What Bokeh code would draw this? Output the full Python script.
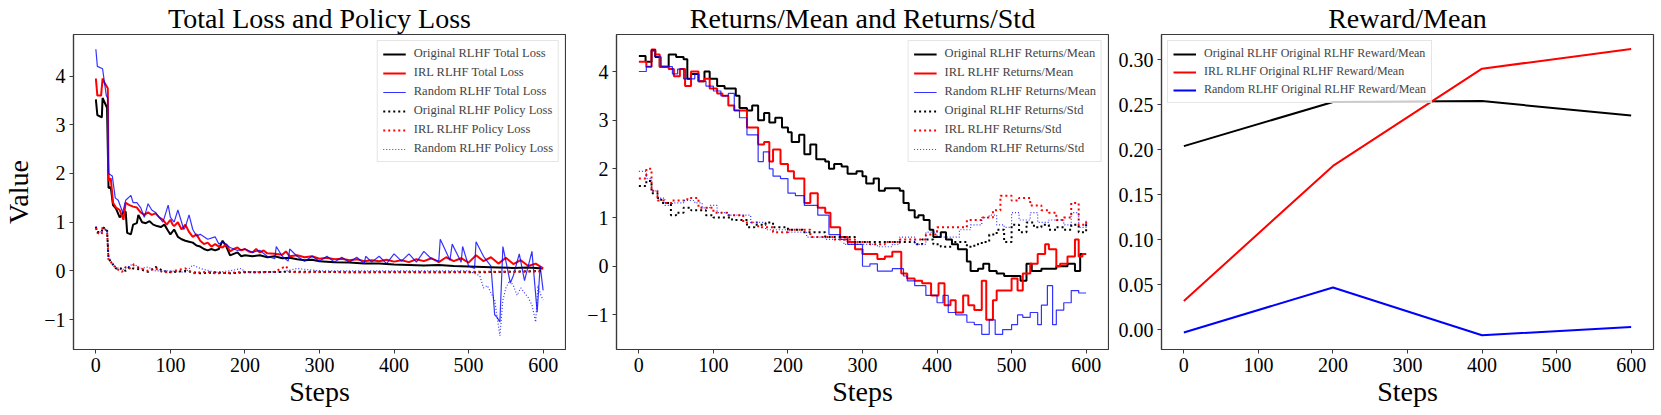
from bokeh.plotting import figure
from bokeh.layouts import row
from bokeh.models import Range1d, FixedTicker, CustomJSTickFormatter, Legend, LegendItem
from bokeh.embed import file_html
from bokeh.resources import INLINE

FONT = "Liberation Serif"

# ---------------- Panel 1: Total Loss and Policy Loss ----------------
orig_total_x = [0, 2, 8, 9, 15, 17, 20, 23, 27, 32, 37, 40, 42, 47, 50, 55, 57, 62, 67, 72, 77, 82, 87, 92, 97,
                100, 105, 110, 115, 120, 125, 130, 135, 140, 145, 150, 155, 160, 165, 170, 175, 180, 185, 190, 195,
                200, 210, 220, 230, 240, 250, 260, 270, 280, 290, 300, 320, 340, 360, 380, 400, 420, 440, 460, 480,
                500, 520, 540, 560, 580, 600]
orig_total_y = [3.52, 3.2, 3.15, 3.55, 3.35, 1.7, 1.72, 1.35, 1.28, 1.1, 1.2, 1.22, 0.78, 0.75, 0.95, 0.98, 1.15, 1.0,
                0.98, 1.02, 0.95, 0.92, 0.9, 0.95, 0.82, 0.75, 0.85, 0.7, 0.65, 0.62, 0.6, 0.58, 0.52, 0.5, 0.45,
                0.42, 0.45, 0.42, 0.45, 0.62, 0.5, 0.32, 0.35, 0.38, 0.3, 0.32, 0.3, 0.32, 0.28, 0.3, 0.26, 0.27,
                0.24, 0.22, 0.23, 0.2, 0.18, 0.17, 0.15, 0.15, 0.13, 0.12, 0.11, 0.12, 0.1, 0.09, 0.08, 0.07, 0.06,
                0.07, 0.05]

irl_total_x = [0, 2, 7, 9, 12, 16, 17, 20, 23, 27, 32, 37, 40, 45, 50, 55, 60, 65, 70, 75, 80, 85, 90, 95, 100, 103,
               105, 110, 115, 120, 125, 130, 135, 140, 145, 150, 155, 160, 165, 170, 175, 180, 185, 190, 195, 200,
               205, 210, 215, 220, 225, 230, 240, 250, 255, 260, 270, 280, 290, 300, 310, 320, 330, 340, 350, 360,
               370, 380, 390, 400, 410, 420, 430, 440, 450, 460, 470, 480, 490, 500, 510, 520, 530, 540, 550, 560,
               570, 580, 590, 600]
irl_total_y = [3.95, 3.6, 3.6, 3.95, 3.85, 3.75, 1.85, 1.9, 1.4, 1.3, 1.25, 1.05, 1.4, 1.35, 1.32, 1.3, 1.2, 1.15,
               1.2, 1.15, 1.18, 1.1, 1.05, 0.95, 1.05, 0.95, 0.92, 1.0, 0.85, 0.95, 0.8, 0.7, 0.75, 0.62, 0.55, 0.58,
               0.5, 0.55, 0.5, 0.48, 0.55, 0.4, 0.45, 0.48, 0.42, 0.45, 0.4, 0.38, 0.45, 0.38, 0.42, 0.36, 0.35,
               0.33, 0.4, 0.3, 0.32, 0.28, 0.3, 0.25, 0.27, 0.24, 0.25, 0.22, 0.24, 0.2, 0.22, 0.2, 0.23, 0.19,
               0.22, 0.18, 0.24, 0.2, 0.26, 0.18, 0.28, 0.2, 0.26, 0.17, 0.32, 0.2, 0.28, 0.15, 0.27, 0.14, 0.22,
               0.1, 0.15, 0.05]

rand_total_x = [0, 2, 9, 14, 16, 17, 22, 26, 30, 36, 40, 47, 50, 55, 60, 65, 70, 75, 80, 85, 90, 97, 100, 105, 110,
                118, 120, 125, 130, 135, 140, 150, 160, 165, 170, 180, 190, 200, 210, 220, 230, 240, 242, 250, 258,
                260, 270, 280, 290, 300, 310, 320, 330, 340, 350, 360, 362, 370, 380, 390, 400, 410, 420, 430, 440,
                450, 460, 462, 475, 478, 490, 492, 500, 508, 510, 520, 530, 535, 538, 542, 546, 550, 556, 560, 568,
                575, 580, 585, 592, 596, 600]
rand_total_y = [4.55, 4.2, 4.15, 3.6, 3.55, 2.0, 1.95, 1.5, 1.45, 1.2, 1.45, 1.55, 1.4, 1.4, 1.3, 1.1, 1.38, 1.25,
                1.2, 1.1, 1.0, 1.35, 1.1, 1.0, 1.25, 0.85, 0.9, 1.15, 0.85, 0.72, 0.75, 0.65, 0.7, 0.55, 0.6, 0.48,
                0.42, 0.45, 0.38, 0.42, 0.3, 0.25, 0.5, 0.3, 0.2, 0.45, 0.3, 0.2, 0.3, 0.2, 0.3, 0.18, 0.28, 0.18,
                0.28, 0.15, 0.3, 0.18, 0.3, 0.15, 0.35, 0.2, 0.35, 0.18, 0.4, 0.25, 0.2, 0.65, 0.22, 0.55, 0.18,
                0.5, 0.1, 0.05, 0.6, 0.3, 0.1, -0.9, -0.95, -1.05, 0.5, 0.2, -0.25, -0.1, 0.35, -0.2, 0.1, 0.4,
                -0.85, 0.1, -0.4]

orig_policy_x = [0, 2, 8, 9, 15, 17, 22, 27, 35, 40, 45, 50, 60, 70, 80, 90, 100, 120, 140, 160, 180, 200, 250, 300,
                 350, 400, 450, 500, 550, 600]
orig_policy_y = [0.9, 0.8, 0.8, 0.9, 0.85, 0.25, 0.15, 0.05, 0.05, 0.0, 0.08, 0.05, 0.03, -0.02, 0.08, 0.0, -0.03,
                 0.0, -0.05, -0.03, -0.05, -0.03, -0.02, -0.02, -0.03, -0.03, -0.03, -0.03, -0.02, 0.0]

irl_policy_x = [0, 2, 8, 9, 15, 17, 22, 27, 35, 40, 45, 50, 60, 70, 80, 90, 100, 110, 120, 130, 140, 150, 160, 180,
                200, 220, 240, 255, 260, 280, 300, 350, 400, 450, 500, 550, 600]
irl_policy_y = [0.88, 0.78, 0.75, 0.9, 0.82, 0.22, 0.15, 0.05, -0.02, 0.08, 0.05, 0.12, 0.05, 0.0, 0.05, -0.03,
                -0.02, 0.02, 0.05, -0.05, -0.03, -0.02, -0.05, -0.04, -0.02, -0.03, -0.02, 0.1, -0.02, -0.03,
                -0.02, -0.03, -0.02, -0.03, -0.02, -0.02, -0.01]

rand_policy_x = [0, 2, 8, 9, 15, 17, 22, 27, 35, 45, 50, 60, 70, 80, 100, 120, 130, 140, 160, 180, 195, 200, 250,
                 270, 300, 350, 400, 450, 500, 515, 520, 525, 530, 535, 542, 546, 550, 555, 560, 565, 570, 575, 580,
                 585, 590, 593, 597, 600]
rand_policy_y = [0.92, 0.8, 0.8, 0.88, 0.82, 0.3, 0.15, 0.08, 0.02, 0.1, 0.15, 0.05, 0.08, 0.0, 0.0, -0.03, 0.12,
                 0.05, -0.03, 0.0, 0.05, -0.02, -0.02, 0.05, 0.0, 0.0, 0.0, 0.0, 0.0, -0.1, -0.35, -0.3, -0.45,
                 -0.6, -1.33, -0.6, -0.35, -0.2, -0.3, -0.5, -0.35, -0.45, -0.55, -0.7, -1.05, -0.3, -0.5, -0.6]

# ---------------- Panel 2: Returns/Mean and Returns/Std (step data) ----------------
orig_mean_x = [0, 9, 17, 22, 28, 40, 50, 60, 65, 70, 80, 88, 95, 105, 115, 130, 135, 145, 152, 160, 168, 175, 183,
               192, 200, 205, 215, 222, 230, 238, 250, 255, 262, 272, 280, 292, 300, 305, 315, 322, 330, 350, 355,
               362, 370, 375, 382, 390, 395, 405, 412, 420, 428, 440, 445, 455, 462, 470, 480, 490, 500, 512, 520,
               527, 540, 560, 575, 585, 592, 600]
orig_mean_y = [4.32, 4.2, 4.43, 4.3, 4.1, 4.35, 4.3, 4.25, 3.85, 3.95, 3.8, 4.0, 3.85, 3.7, 3.65, 3.5, 3.25, 3.2,
               3.3, 3.0, 3.15, 2.95, 3.05, 2.85, 2.75, 2.55, 2.7, 2.3, 2.5, 2.2, 2.15, 2.0, 2.1, 2.05, 1.9, 1.95,
               1.85, 1.7, 1.8, 1.55, 1.6, 1.55, 1.3, 1.15, 1.0, 1.05, 0.95, 0.75, 0.6, 0.7, 0.55, 0.45, 0.35, 0.1,
               -0.1, -0.05, 0.05, -0.1, -0.15, -0.2, -0.2, -0.3, 0.05, -0.1, -0.05, 0.0, 0.05, -0.1, 0.25, 0.25]

irl_mean_x = [0, 10, 17, 22, 28, 40, 47, 55, 62, 70, 80, 88, 95, 105, 112, 120, 128, 145, 160, 168, 175, 180, 190,
              200, 208, 222, 230, 240, 250, 257, 270, 280, 290, 300, 320, 330, 340, 352, 360, 370, 380, 392, 402,
              410, 418, 425, 435, 442, 450, 460, 466, 475, 480, 490, 500, 508, 515, 525, 535, 545, 550, 560, 565,
              575, 585, 590, 595, 600]
irl_mean_y = [4.2, 4.1, 4.45, 4.35, 4.1, 4.05, 3.9, 4.05, 3.7, 4.0, 3.8, 3.85, 3.65, 3.55, 3.5, 3.3, 3.2, 2.85, 2.5,
              2.55, 2.15, 2.4, 2.1, 1.95, 1.8, 1.3, 1.5, 1.2, 1.1, 0.8, 0.6, 0.5, 0.35, 0.25, 0.15, 0.2, 0.3, -0.15,
              -0.25, -0.3, -0.35, -0.6, -0.35, -0.8, -0.7, -0.95, -0.6, -0.8, -0.9, -0.3, -1.1, -0.7, -0.5, -0.5,
              -0.25, -0.5, -0.15, 0.05, 0.25, 0.45, 0.35, 0.0, 0.05, 0.2, 0.55, 0.2, 0.25, 0.25]

rand_mean_x = [0, 10, 17, 22, 30, 45, 52, 60, 75, 80, 90, 100, 110, 120, 128, 135, 145, 160, 167, 175, 180, 190,
               200, 210, 222, 240, 255, 270, 280, 300, 310, 320, 340, 355, 360, 370, 385, 400, 408, 415, 425, 440,
               450, 460, 470, 478, 488, 500, 508, 515, 525, 535, 540, 548, 555, 560, 570, 580, 590, 600]
rand_mean_y = [4.0, 4.1, 4.45, 4.3, 4.1, 3.95, 4.05, 3.85, 3.95, 3.8, 3.7, 3.6, 3.5, 3.55, 3.2, 3.05, 2.7, 2.15,
               2.35, 2.0, 1.85, 1.8, 1.5, 1.45, 1.25, 1.05, 0.65, 0.55, 0.45, 0.0, 0.05, -0.1, -0.05, -0.2, -0.3,
               -0.4, -0.6, -0.75, -0.6, -0.95, -1.0, -1.15, -1.2, -1.4, -1.1, -1.4, -1.3, -1.2, -1.0, -1.05, -0.95,
               -1.2, -0.8, -0.4, -1.2, -0.9, -0.75, -0.5, -0.55, -0.55]

orig_std_x = [0, 10, 17, 25, 30, 43, 50, 60, 70, 80, 90, 100, 110, 125, 140, 145, 155, 165, 170, 180, 200, 220,
              235, 250, 270, 290, 310, 330, 350, 370, 380, 395, 405, 420, 440, 450, 460, 470, 480, 490, 500, 510,
              520, 530, 540, 550, 560, 570, 580, 590, 600]
orig_std_y = [1.65, 1.75, 1.5, 1.4, 1.3, 1.05, 1.1, 1.2, 1.15, 1.15, 1.05, 1.0, 1.0, 0.95, 0.95, 0.8, 0.85, 0.85,
              0.9, 0.8, 0.75, 0.7, 0.7, 0.6, 0.6, 0.5, 0.5, 0.5, 0.5, 0.45, 0.55, 0.45, 0.4, 0.5, 0.4, 0.45, 0.5,
              0.65, 0.75, 0.5, 0.85, 0.7, 0.9, 0.8, 0.85, 0.75, 0.8, 0.75, 0.85, 0.7, 0.9]

irl_std_x = [0, 10, 17, 25, 35, 45, 65, 80, 100, 120, 140, 160, 180, 200, 230, 260, 290, 310, 330, 350, 370, 385,
             400, 420, 440, 460, 475, 485, 500, 510, 525, 540, 550, 560, 570, 580, 590, 600]
irl_std_y = [1.8, 2.0, 1.55, 1.35, 1.3, 1.35, 1.4, 1.2, 1.1, 1.05, 0.9, 0.8, 0.7, 0.75, 0.6, 0.55, 0.5, 0.45, 0.5,
             0.55, 0.55, 0.65, 0.8, 0.8, 0.95, 1.0, 1.15, 1.45, 1.35, 1.4, 1.25, 1.15, 1.1, 0.95, 1.0, 1.3, 0.85,
             0.95]

rand_std_x = [0, 10, 17, 25, 35, 45, 60, 75, 85, 95, 105, 120, 140, 150, 170, 200, 225, 250, 275, 300, 320, 340,
              350, 370, 385, 400, 415, 430, 445, 460, 470, 480, 490, 500, 510, 525, 535, 550, 560, 570, 580, 590,
              600]
rand_std_y = [1.95, 1.8, 1.55, 1.4, 1.25, 1.3, 1.35, 1.3, 1.2, 1.25, 1.1, 1.05, 1.05, 0.9, 0.75, 0.7, 0.6, 0.55,
              0.45, 0.45, 0.4, 0.45, 0.6, 0.45, 0.7, 0.6, 0.6, 0.75, 0.85, 1.0, 1.05, 0.85, 0.8, 1.1, 0.95, 1.1,
              0.9, 0.95, 0.95, 0.85, 1.1, 0.8, 0.95]

# ---------------- Panel 3: Reward/Mean ----------------
reward_steps = [0, 200, 400, 600]
orig_reward = [0.204, 0.253, 0.254, 0.238]
irl_reward = [0.032, 0.182, 0.290, 0.312]
rand_reward = [-0.003, 0.047, -0.006, 0.003]

x_ticks = [0, 100, 200, 300, 400, 500, 600]
loss_ticks = [-1, 0, 1, 2, 3, 4]
reward_ticks = [0.0, 0.05, 0.10, 0.15, 0.20, 0.25, 0.30]

MINUS_FMT = "return (Math.round(tick*100)/100).toString().replace('-', '\u2212');"
FIX2_FMT = "return tick.toFixed(2).replace('-', '\u2212');"


def make_fig(title, yr, yticks, fmt, left, right, ylabel=None):
    p = figure(frame_width=492, frame_height=315, x_range=Range1d(-30, 630), y_range=Range1d(*yr),
               output_backend="svg", toolbar_location=None,
               min_border_left=left, min_border_right=right, min_border_top=28, min_border_bottom=56)
    p.title.text = title
    p.title.text_font = FONT
    p.title.text_font_size = "28px"
    p.title.text_font_style = "normal"
    p.title.text_color = "black"
    p.title.align = "center"
    p.title.standoff = 1
    p.title.offset = 0
    p.xgrid.visible = False
    p.ygrid.visible = False
    p.outline_line_color = "#3a3a3a"
    p.outline_line_width = 1.2
    p.background_fill_color = "white"
    p.border_fill_color = "white"
    for ax in (p.xaxis, p.yaxis):
        ax.axis_line_color = "#3a3a3a"
        ax.axis_line_width = 1.2
        ax.major_tick_line_color = "#3a3a3a"
        ax.major_tick_out = 4
        ax.major_tick_in = 0
        ax.minor_tick_line_color = None
        ax.major_label_text_font = FONT
        ax.major_label_text_font_size = "20px"
        ax.major_label_text_color = "black"
        ax.major_label_standoff = 4
        ax.axis_label_text_font = FONT
        ax.axis_label_text_font_size = "28px"
        ax.axis_label_text_font_style = "normal"
        ax.axis_label_text_color = "black"
    p.xaxis.ticker = FixedTicker(ticks=x_ticks)
    p.xaxis.formatter = CustomJSTickFormatter(code=MINUS_FMT)
    p.yaxis.ticker = FixedTicker(ticks=yticks)
    p.yaxis.formatter = CustomJSTickFormatter(code=fmt)
    p.xaxis.axis_label = "Steps"
    p.xaxis.axis_label_standoff = 1
    if ylabel:
        p.yaxis.axis_label = ylabel
        p.yaxis.axis_label_standoff = 7
    return p


def style_legend(p, items, loc, font_size="12.5px", spacing=4):
    lg = Legend(items=items, location=loc)
    lg.label_text_font = FONT
    lg.label_text_font_size = font_size
    lg.label_height = 12
    lg.glyph_height = 12
    lg.glyph_width = 23
    lg.label_standoff = 8
    lg.spacing = spacing
    lg.padding = 5
    lg.margin = 6
    lg.border_line_color = "#cccccc"
    lg.border_line_width = 1
    lg.background_fill_alpha = 0.8
    p.add_layout(lg)


# Panel 1
p1 = make_fig("Total Loss and Policy Loss", (-1.614, 4.854), loss_ticks, MINUS_FMT, 63, 1, ylabel="Value")
r1 = p1.line(orig_total_x, orig_total_y, line_color="black", line_width=2)
r2 = p1.line(irl_total_x, irl_total_y, line_color="#ff0000", line_width=2)
r3 = p1.line(rand_total_x, rand_total_y, line_color="#0000ff", line_width=1.2, line_alpha=0.8)
r4 = p1.line(orig_policy_x, orig_policy_y, line_color="black", line_width=2, line_dash="2 3")
r5 = p1.line(irl_policy_x, irl_policy_y, line_color="#ff0000", line_width=2, line_dash="2 3")
r6 = p1.line(rand_policy_x, rand_policy_y, line_color="#0000ff", line_width=1.2, line_alpha=0.8, line_dash="1 2")
style_legend(p1, [
    LegendItem(label="Original RLHF Total Loss", renderers=[r1]),
    LegendItem(label="IRL RLHF Total Loss", renderers=[r2]),
    LegendItem(label="Random RLHF Total Loss", renderers=[r3]),
    LegendItem(label="Original RLHF Policy Loss", renderers=[r4]),
    LegendItem(label="IRL RLHF Policy Loss", renderers=[r5]),
    LegendItem(label="Random RLHF Policy Loss", renderers=[r6]),
], "top_right")

# Panel 2
p2 = make_fig("Returns/Mean and Returns/Std", (-1.71, 4.76), loss_ticks, MINUS_FMT, 50, 1)
s1 = p2.step(orig_mean_x, orig_mean_y, mode="after", line_color="black", line_width=2)
s2 = p2.step(irl_mean_x, irl_mean_y, mode="after", line_color="#ff0000", line_width=2)
s3 = p2.step(rand_mean_x, rand_mean_y, mode="after", line_color="#0000ff", line_width=1.2, line_alpha=0.8)
s4 = p2.step(orig_std_x, orig_std_y, mode="after", line_color="black", line_width=2, line_dash="2 3")
s5 = p2.step(irl_std_x, irl_std_y, mode="after", line_color="#ff0000", line_width=2, line_dash="2 3")
s6 = p2.step(rand_std_x, rand_std_y, mode="after", line_color="#0000ff", line_width=1.2, line_alpha=0.8,
             line_dash="1 2")
style_legend(p2, [
    LegendItem(label="Original RLHF Returns/Mean", renderers=[s1]),
    LegendItem(label="IRL RLHF Returns/Mean", renderers=[s2]),
    LegendItem(label="Random RLHF Returns/Mean", renderers=[s3]),
    LegendItem(label="Original RLHF Returns/Std", renderers=[s4]),
    LegendItem(label="IRL RLHF Returns/Std", renderers=[s5]),
    LegendItem(label="Random RLHF Returns/Std", renderers=[s6]),
], "top_right")

# Panel 3
p3 = make_fig("Reward/Mean", (-0.0219, 0.328), reward_ticks, FIX2_FMT, 52, 2)
t1 = p3.line(reward_steps, orig_reward, line_color="black", line_width=2)
t2 = p3.line(reward_steps, irl_reward, line_color="#ff0000", line_width=2)
t3 = p3.line(reward_steps, rand_reward, line_color="#0000ff", line_width=2)
style_legend(p3, [
    LegendItem(label="Original RLHF Original RLHF Reward/Mean", renderers=[t1]),
    LegendItem(label="IRL RLHF Original RLHF Reward/Mean", renderers=[t2]),
    LegendItem(label="Random RLHF Original RLHF Reward/Mean", renderers=[t3]),
], "top_left", font_size="12px", spacing=3)

layout = row(p1, p2, p3, spacing=0)
open("out.html", "w").write(file_html(layout, INLINE))
